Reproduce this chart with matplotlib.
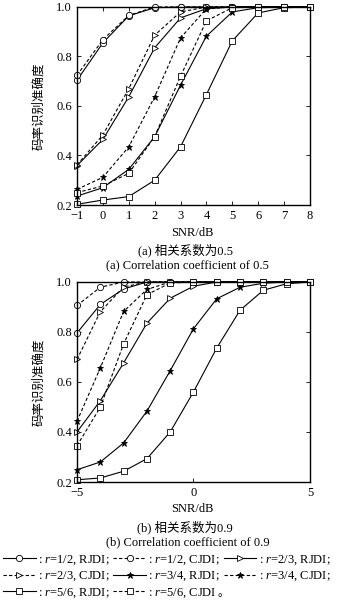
import matplotlib
matplotlib.use("Agg")
import matplotlib.pyplot as plt

plt.rcParams['font.family'] = ['Liberation Serif', 'Noto Sans CJK SC']
plt.rcParams['mathtext.fontset'] = 'custom'
plt.rcParams['mathtext.it'] = 'Liberation Serif:italic'
plt.rcParams['mathtext.rm'] = 'Liberation Serif'
plt.rcParams['axes.unicode_minus'] = True

# (a) 相关系数 0.5
snr_a = [-1, 0, 1, 2, 3, 4, 5, 6, 7, 8]
a_12_r = [0.704, 0.855, 0.964, 0.997, 1.0, 1.0, 1.0, 1.0, 1.0, 1.0]
a_12_c = [0.724, 0.868, 0.966, 1.0, 1.0, 1.0, 1.0, 1.0, 1.0, 1.0]
a_23_r = [0.359, 0.465, 0.637, 0.835, 0.956, 0.993, 1.0, 1.0, 1.0, 1.0]
a_23_c = [0.362, 0.483, 0.670, 0.886, 0.980, 1.0, 1.0, 1.0, 1.0, 1.0]
a_34_r = [0.236, 0.270, 0.344, 0.476, 0.684, 0.882, 0.980, 0.997, 1.0, 1.0]
a_34_c = [0.263, 0.312, 0.435, 0.637, 0.875, 0.993, 1.0, 1.0, 1.0, 1.0]
a_56_r = [0.203, 0.220, 0.234, 0.300, 0.435, 0.646, 0.863, 0.976, 0.997, 1.0]
a_56_c = [0.250, 0.277, 0.328, 0.476, 0.720, 0.944, 0.997, 1.0, 1.0, 1.0]

# (b) 相关系数 0.9
snr_b = [-5, -4, -3, -2, -1, 0, 1, 2, 3, 4, 5]
b_12_r = [0.796, 0.910, 0.972, 1.0, 1.0, 1.0, 1.0, 1.0, 1.0, 1.0, 1.0]
b_12_c = [0.906, 0.979, 1.0, 1.0, 1.0, 1.0, 1.0, 1.0, 1.0, 1.0, 1.0]
b_23_r = [0.400, 0.525, 0.676, 0.835, 0.935, 0.983, 1.0, 1.0, 1.0, 1.0, 1.0]
b_23_c = [0.690, 0.881, 0.980, 1.0, 1.0, 1.0, 1.0, 1.0, 1.0, 1.0, 1.0]
b_34_r = [0.249, 0.280, 0.356, 0.483, 0.645, 0.813, 0.933, 0.979, 0.995, 1.0, 1.0]
b_34_c = [0.443, 0.656, 0.882, 0.970, 1.0, 1.0, 1.0, 1.0, 1.0, 1.0, 1.0]
b_56_r = [0.209, 0.216, 0.243, 0.293, 0.400, 0.560, 0.736, 0.887, 0.967, 0.993, 1.0]
b_56_c = [0.345, 0.499, 0.752, 0.949, 0.996, 1.0, 1.0, 1.0, 1.0, 1.0, 1.0]

# 最后一个的 "。" 单独画（mathtext 里没有中文字体）
labels = [": $\\it{r}$=1/2, RJDI;", ": $\\it{r}$=1/2, CJDI;", ": $\\it{r}$=2/3, RJDI;",
          ": $\\it{r}$=2/3, CJDI;", ": $\\it{r}$=3/4, RJDI;", ": $\\it{r}$=3/4, CJDI;",
          ": $\\it{r}$=5/6, RJDI;", ": $\\it{r}$=5/6, CJDI"]
markers = ['o', 'o', '>', '>', '*', '*', 's', 's']
styles = ['-', '--', '-', '--', '-', '--', '-', '--']

fig = plt.figure(figsize=(3.54, 6.01), dpi=100)
ax1 = fig.add_axes([0.2175, 0.6589, 0.658, 0.3295])
ax2 = fig.add_axes([0.2175, 0.198, 0.658, 0.3328])


def draw(ax, x, series):
    handles = []
    for ys, m, ls in zip(series, markers, styles):
        filled = m == '*'
        h, = ax.plot(x, ys, linestyle=ls, color='black', lw=0.8,
                     marker=m, ms=4.5,
                     mfc='black' if filled else 'white', mec='black', mew=0.6,
                     dashes=(3, 2) if ls == '--' else (None, None), clip_on=False)
        handles.append(h)
    ax.set_ylim(0.2, 1.0)
    ax.set_yticks([0.2, 0.4, 0.6, 0.8, 1.0])
    ax.set_yticklabels(['0.2', '0.4', '0.6', '0.8', '1.0'])
    ax.tick_params(direction='in', length=3, width=0.6, labelsize=9, top=True, right=True)
    for s in ax.spines.values():
        s.set_linewidth(1.0)
    ax.set_ylabel('码率识别准确度', fontsize=9, family=['Noto Sans CJK SC'], labelpad=8)
    return handles


handles = draw(ax1, snr_a, [a_12_r, a_12_c, a_23_r, a_23_c, a_34_r, a_34_c, a_56_r, a_56_c])
ax1.set_xlim(-1, 8)
ax1.set_xticks(snr_a)

draw(ax2, snr_b, [b_12_r, b_12_c, b_23_r, b_23_c, b_34_r, b_34_c, b_56_r, b_56_c])
ax2.set_xlim(-5, 5)
ax2.set_xticks([-5, 0, 5])

fig.text(0.543, 0.6123, 'SNR/dB', ha='center', va='center', fontsize=9)
fig.text(0.525, 0.584, '(a) 相关系数为0.5', ha='center', va='center', fontsize=9)
fig.text(0.53, 0.559, '(a) Correlation coefficient of 0.5', ha='center', va='center', fontsize=9)
fig.text(0.543, 0.153, 'SNR/dB', ha='center', va='center', fontsize=9)
fig.text(0.523, 0.123, '(b) 相关系数为0.9', ha='center', va='center', fontsize=9)
fig.text(0.53, 0.098, '(b) Correlation coefficient of 0.9', ha='center', va='center', fontsize=9)

order = [0, 3, 6, 1, 4, 7, 2, 5]
leg = fig.legend([handles[i] for i in order], [labels[i] for i in order],
                 loc='upper left', bbox_to_anchor=(0.005, 1 - 552 / 601), ncol=3,
                 frameon=False, fontsize=9, handlelength=2.6, handletextpad=0.2,
                 columnspacing=0.3, labelspacing=0.25, borderaxespad=0, borderpad=0.1)

# 句号贴在最后一个图例文字后面
fig.canvas.draw()
last = leg.get_texts()[5]
bb = last.get_window_extent().transformed(fig.transFigure.inverted())
fig.text(bb.x1 + 0.5 / 354, (bb.y0 + bb.y1) / 2, '。', ha='left', va='center', fontsize=8,
         family=['Noto Sans CJK SC'])

fig.savefig('out.png', dpi=100)
